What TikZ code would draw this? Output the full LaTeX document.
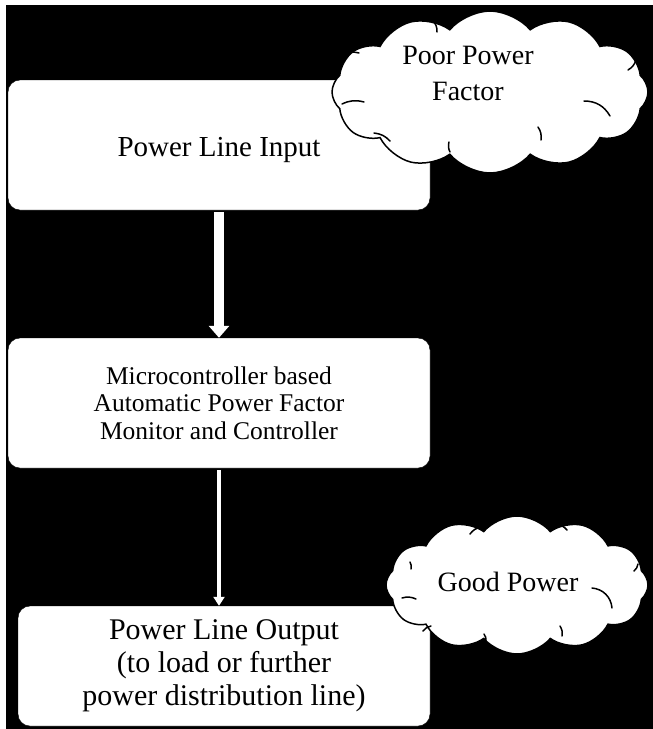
\documentclass[tikz,border=0pt]{standalone}
\usepackage{fontspec}
\setmainfont{Liberation Serif}
\usetikzlibrary{arrows.meta,positioning,shapes.symbols}
\tikzset{>=latex}
\tikzset{block/.style={draw=black, fill=white, rounded corners=12pt, align=center, inner sep=0pt}}
\tikzset{puff/.style={cloud, cloud puffs=12, cloud puff arc=100, cloud ignores aspect, draw=black, line width=1.5pt, fill=white, inner sep=0pt}}
\tikzset{crease/.style={black, line width=1.5pt, line cap=round}}
\tikzset{bigflow/.style={white, line width=10pt, -{Triangle[width=20pt,length=12pt]}}}
\tikzset{thinflow/.style={white, line width=4pt, -{Triangle[width=11pt,length=9pt]}}}

\begin{document}
\begin{tikzpicture}[x=1pt,y=-1pt]
      \useasboundingbox (0,0) rectangle (653,729);
      \fill[white] (0,0) rectangle (653,729);
      \fill[black] (6,5) rectangle (653,729);
      % boxes
      \node[block, minimum width=422pt, minimum height=130pt, text height=26pt, text depth=4pt, font=\fontsize{29}{32}\selectfont] (input) at (219,145) {Power Line Input};
      \node[block, minimum width=422pt, minimum height=130pt, font=\fontsize{25.5}{27.5}\selectfont] (ctrl) at (219,403) {Microcontroller based\\Automatic Power Factor\\Monitor and Controller};
      \node[block, minimum width=412pt, minimum height=120pt, font=\fontsize{30}{33}\selectfont] (output) at (224,666) {Power Line Output\\(to load or further\\power distribution line)};
      % clouds
      \node[puff, minimum width=316pt, minimum height=162pt] (poor) at (490,92) {};
      \draw[crease] (335,56) to[bend left=20] (359,53);
      \draw[crease] (432,20) to[bend left=25] (437,32);
      \draw[crease] (607,24) to[bend left=25] (622,21);
      \draw[crease] (628,70) to[bend right=20] (636,60);
      \draw[crease] (584,101) to[bend left=30] (610,116);
      \draw[crease] (538,127) to[bend left=20] (541,140);
      \draw[crease] (449,142) to[bend right=20] (450,152);
      \draw[crease] (374,133) to[bend left=20] (390,141);
      \draw[crease] (342,104) to[bend left=20] (364,102);
      \node[align=center, font=\fontsize{28}{36}\selectfont] (poortext) at (468,73) {Poor Power\\Factor};
      \node[puff, minimum width=262pt, minimum height=138pt] (good) at (517,585) {};
      \draw[crease] (470,534) to[bend left=20] (481,527);
      \draw[crease] (556,524) to[bend left=20] (567,530);
      \draw[crease] (617,531) to[bend left=20] (622,538);
      \draw[crease] (638,564) to[bend left=20] (634,571);
      \draw[crease] (592,588) to[bend left=40] (612,608);
      \draw[crease] (560,626) to[bend left=20] (562,636);
      \draw[crease] (484,634) to[bend left=20] (486,641);
      \draw[crease] (423,631) to[bend left=20] (431,626);
      \draw[crease] (402,598) to[bend left=20] (416,599);
      \draw[crease] (410,562) to[bend left=20] (411,569);
      \node[font=\fontsize{28}{32}\selectfont] (goodtext) at (508,582) {Good Power};
      % arrows
      \draw[bigflow] ([yshift=-2pt]input.south) -- (ctrl.north);
      \coordinate (o1) at (ctrl.south |- output.north);
      \draw[thinflow] ([yshift=-2pt]ctrl.south) -- (o1);
    \end{tikzpicture}
\end{document}
